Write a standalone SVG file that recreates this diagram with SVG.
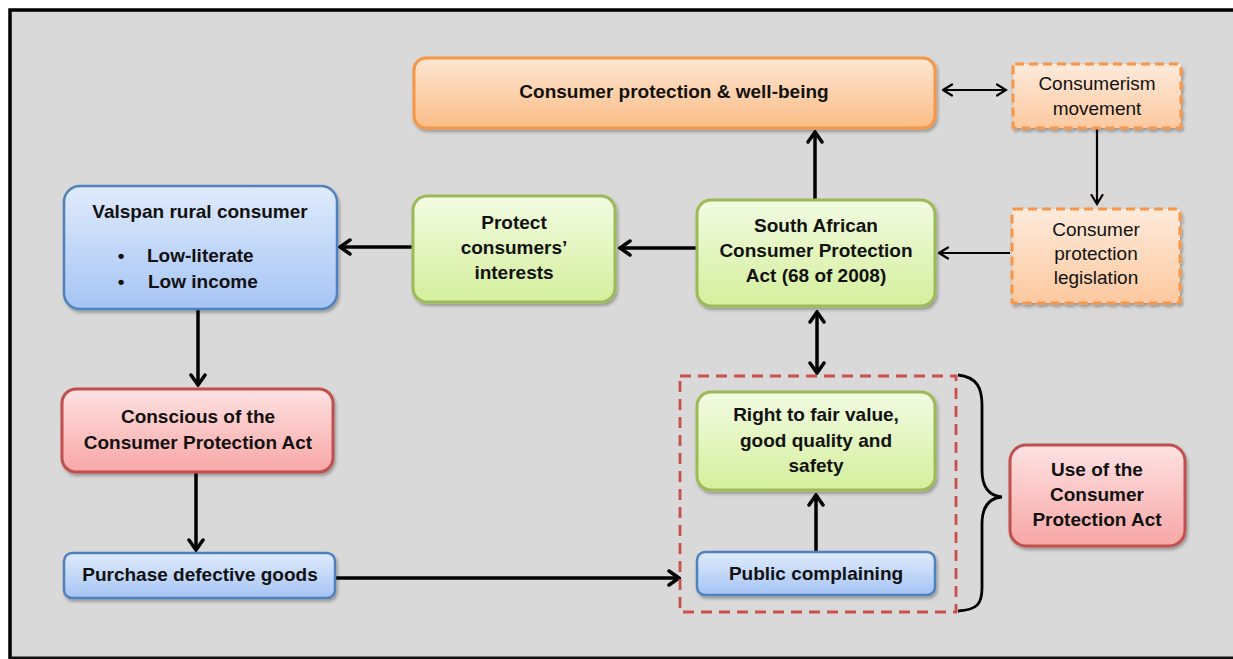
<svg xmlns="http://www.w3.org/2000/svg" width="1233" height="659" viewBox="0 0 1233 659">
<style>
  text { font-family: "Liberation Sans", Arial, sans-serif; font-size: 19px; fill: #111; text-anchor: middle; }
  .b { font-weight: bold; }
  .n { filter: url(#sh); }
  .or { fill: url(#gOr); stroke: #f79646; stroke-width: 3; }
  .ord { fill: url(#gOrD); stroke: #f79646; stroke-width: 3; stroke-dasharray: 9 5; }
  .gr { fill: url(#gGr); stroke: #9bbb59; stroke-width: 3; }
  .bl { fill: url(#gBl); stroke: #4f81bd; stroke-width: 2.5; }
  .rd { fill: url(#gRd); stroke: #c0504d; stroke-width: 3; }
  .thick { stroke: #000; stroke-width: 3.5; fill: none; }
  .thin { stroke: #000; stroke-width: 2.2; fill: none; }
</style>
<defs>
  <linearGradient id="gOr" x1="0" y1="0" x2="0" y2="1"><stop offset="0" stop-color="#fee6d2"/><stop offset="1" stop-color="#fbbd87"/></linearGradient>
  <linearGradient id="gOrD" x1="0" y1="0" x2="0" y2="1"><stop offset="0" stop-color="#feeadb"/><stop offset="1" stop-color="#fcc9a0"/></linearGradient>
  <linearGradient id="gGr" x1="0" y1="0" x2="0" y2="1"><stop offset="0" stop-color="#f2fbe2"/><stop offset="1" stop-color="#d4ef9c"/></linearGradient>
  <linearGradient id="gBl" x1="0" y1="0" x2="0" y2="1"><stop offset="0" stop-color="#e0ebfc"/><stop offset="1" stop-color="#a5c4f4"/></linearGradient>
  <linearGradient id="gRd" x1="0" y1="0" x2="0" y2="1"><stop offset="0" stop-color="#fee2e2"/><stop offset="1" stop-color="#f8a6a6"/></linearGradient>
  <filter id="sh" x="-10%" y="-10%" width="125%" height="130%">
    <feDropShadow dx="1.5" dy="2.5" stdDeviation="1.8" flood-color="#000" flood-opacity="0.3"/>
  </filter>
  <marker id="ah" viewBox="0 0 14 18" refX="12" refY="9" markerWidth="14" markerHeight="18" markerUnits="userSpaceOnUse" orient="auto-start-reverse">
    <path d="M2,2 L12,9 L2,16" fill="none" stroke="#000" stroke-width="3.5" stroke-linecap="round" stroke-linejoin="miter"/>
  </marker>
  <marker id="at" viewBox="0 0 12 14" refX="10.5" refY="7" markerWidth="12" markerHeight="14" markerUnits="userSpaceOnUse" orient="auto-start-reverse">
    <path d="M1.5,1.5 L10.5,7 L1.5,12.5" fill="none" stroke="#000" stroke-width="2.2" stroke-linecap="round"/>
  </marker>
</defs>

<rect x="0" y="0" width="1233" height="659" fill="#ffffff"/>
<rect x="10" y="10" width="1225" height="647" fill="#d9d9d9"/>
<path d="M10,659 L10,10 L1233,10" fill="none" stroke="#000" stroke-width="3.5"/>
<line x1="10" y1="658" x2="1233" y2="658" stroke="#111" stroke-width="3"/>

<g id="connectors">
  <line class="thick" x1="413" y1="247" x2="340" y2="247" marker-end="url(#ah)"/>
  <line class="thick" x1="697" y1="248" x2="620" y2="248" marker-end="url(#ah)"/>
  <line class="thick" x1="815" y1="200" x2="815" y2="132" marker-end="url(#ah)"/>
  <line class="thick" x1="817" y1="312" x2="817" y2="373" marker-start="url(#ah)" marker-end="url(#ah)"/>
  <line class="thin" x1="943" y1="90" x2="1006" y2="90" marker-start="url(#at)" marker-end="url(#at)"/>
  <line class="thin" x1="1097" y1="129" x2="1097" y2="204" marker-end="url(#at)"/>
  <line class="thin" x1="1010" y1="253" x2="939" y2="253" marker-end="url(#at)"/>
  <line class="thick" x1="198" y1="310" x2="198" y2="385" marker-end="url(#ah)"/>
  <line class="thick" x1="196" y1="473" x2="196" y2="550" marker-end="url(#ah)"/>
  <line class="thick" x1="336" y1="578" x2="679" y2="578" marker-end="url(#ah)"/>
  <line class="thick" x1="816" y1="551" x2="816" y2="495" marker-end="url(#ah)"/>
  <path d="M958,375 C977,377 982,388 982,405 L982,470 C982,488 990,496 1002,497 C990,498 982,506 982,524 L982,588 C982,604 977,610 958,611" fill="none" stroke="#000" stroke-width="2.8"/>
</g>

<g id="group-box">
  <rect x="680" y="376" width="276" height="236" fill="none" stroke="#c9504d" stroke-width="2.8" stroke-dasharray="11 7"/>
</g>

<g id="n-wellbeing">
  <rect class="n or" x="414" y="58" width="521" height="70" rx="12"/>
  <text class="b" x="674" y="98">Consumer protection &amp; well-being</text>
</g>

<g id="n-consumerism">
  <rect class="n ord" x="1013" y="64" width="168" height="64" rx="2"/>
  <text x="1097" y="90">Consumerism</text>
  <text x="1097" y="115">movement</text>
</g>

<g id="n-legislation">
  <rect class="n ord" x="1012" y="209" width="168" height="94" rx="2"/>
  <text x="1096" y="236">Consumer</text>
  <text x="1096" y="260">protection</text>
  <text x="1096" y="284">legislation</text>
</g>

<g id="n-act">
  <rect class="n gr" x="697" y="200" width="238" height="106" rx="14"/>
  <text class="b" x="816" y="232">South African</text>
  <text class="b" x="816" y="257">Consumer Protection</text>
  <text class="b" x="816" y="282">Act (68 of 2008)</text>
</g>

<g id="n-protect">
  <rect class="n gr" x="413" y="196" width="202" height="106" rx="14"/>
  <text class="b" x="514" y="229">Protect</text>
  <text class="b" x="514" y="254">consumers’</text>
  <text class="b" x="514" y="279">interests</text>
</g>

<g id="n-valspan">
  <rect class="n bl" x="64" y="186" width="273" height="123" rx="16"/>
  <text class="b" x="200" y="218">Valspan rural consumer</text>
  <text class="b" x="121" y="262">•</text>
  <text class="b" x="147" y="262" style="text-anchor:start">Low-literate</text>
  <text class="b" x="121" y="288">•</text>
  <text class="b" x="148" y="288" style="text-anchor:start">Low income</text>
</g>

<g id="n-conscious">
  <rect class="n rd" x="62" y="389" width="271" height="83" rx="14"/>
  <text class="b" x="198" y="423">Conscious of the</text>
  <text class="b" x="198" y="449">Consumer Protection Act</text>
</g>

<g id="n-purchase">
  <rect class="n bl" x="64" y="553" width="271" height="45" rx="8"/>
  <text class="b" x="200" y="581">Purchase defective goods</text>
</g>

<g id="n-right">
  <rect class="n gr" x="697" y="392" width="238" height="98" rx="14"/>
  <text class="b" x="816" y="421">Right to fair value,</text>
  <text class="b" x="816" y="447">good quality and</text>
  <text class="b" x="816" y="472">safety</text>
</g>

<g id="n-public">
  <rect class="n bl" x="697" y="552" width="238" height="43" rx="8"/>
  <text class="b" x="816" y="580">Public complaining</text>
</g>

<g id="n-use">
  <rect class="n rd" x="1010" y="445" width="175" height="101" rx="16"/>
  <text class="b" x="1097" y="476">Use of the</text>
  <text class="b" x="1097" y="501">Consumer</text>
  <text class="b" x="1097" y="526">Protection Act</text>
</g>
</svg>
